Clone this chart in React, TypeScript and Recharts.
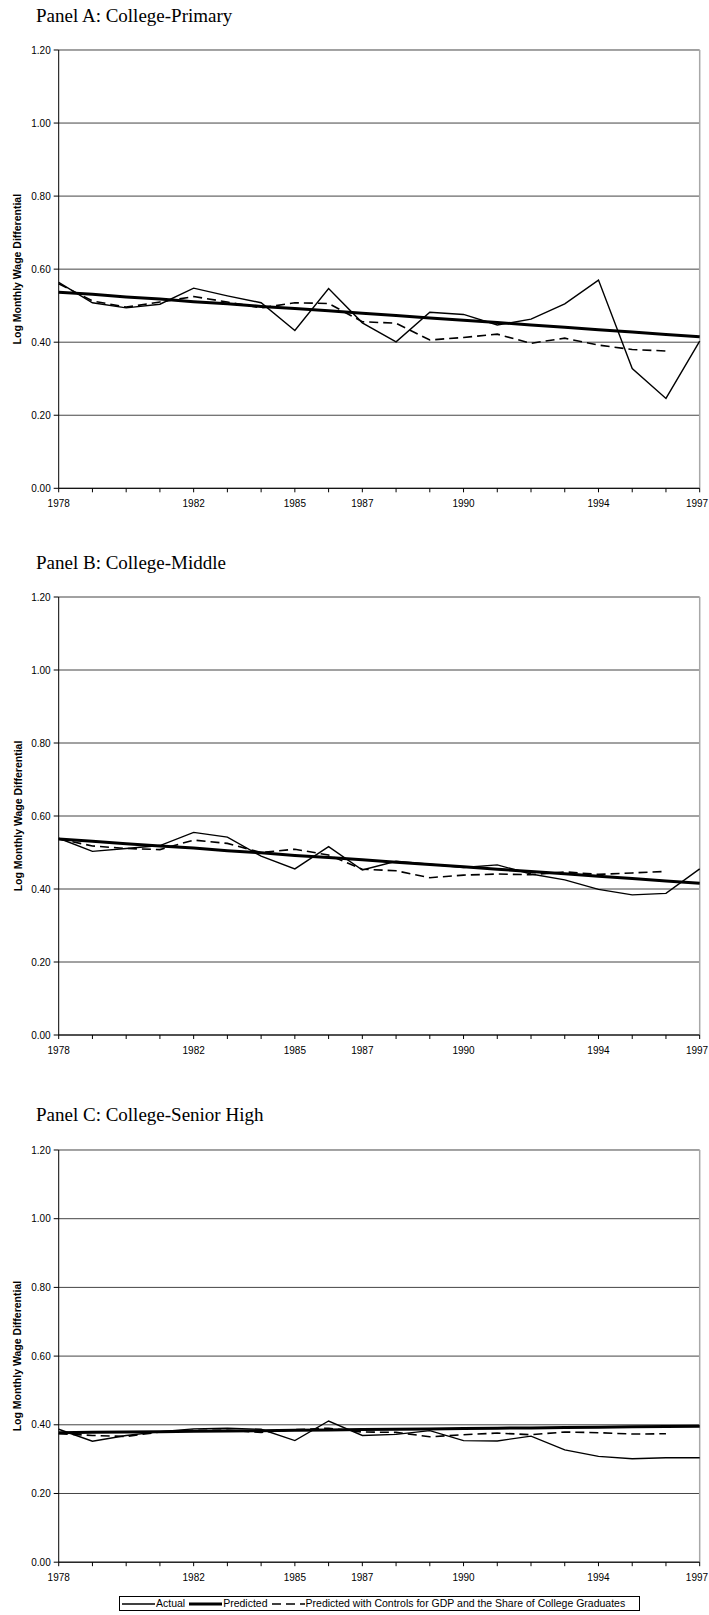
import React from "react";
import {
  LineChart,
  Line,
  XAxis,
  YAxis,
  CartesianGrid,
  ReferenceLine,
} from "recharts";

const years = [
  "1978", "1979", "1980", "1981", "1982", "1983", "1984", "1985", "1986", "1987",
  "1988", "1989", "1990", "1991", "1992", "1993", "1994", "1995", "1996", "1997",
];
const labeledYears = ["1978", "1982", "1985", "1987", "1990", "1994", "1997"];
const yTicks = [0, 0.2, 0.4, 0.6, 0.8, 1.0, 1.2];

const primaryActual = [0.564, 0.508, 0.494, 0.504, 0.548, 0.527, 0.508, 0.432, 0.547, 0.453, 0.401, 0.482, 0.476, 0.447, 0.463, 0.505, 0.570, 0.328, 0.246, 0.403];
const primaryPredicted = [0.537, 0.531, 0.524, 0.518, 0.511, 0.505, 0.498, 0.492, 0.486, 0.479, 0.473, 0.466, 0.460, 0.454, 0.447, 0.441, 0.434, 0.428, 0.421, 0.415];
const primaryControls = [0.560, 0.513, 0.496, 0.510, 0.525, 0.510, 0.494, 0.508, 0.506, 0.456, 0.452, 0.406, 0.413, 0.422, 0.397, 0.411, 0.392, 0.380, 0.376, null];

const middleActual = [0.539, 0.503, 0.511, 0.519, 0.555, 0.542, 0.490, 0.455, 0.516, 0.452, 0.476, 0.468, 0.459, 0.466, 0.441, 0.425, 0.399, 0.384, 0.388, 0.455];
const middlePredicted = [0.537, 0.531, 0.524, 0.518, 0.512, 0.505, 0.499, 0.492, 0.486, 0.480, 0.473, 0.467, 0.461, 0.454, 0.448, 0.442, 0.435, 0.429, 0.422, 0.416];
const middleControls = [0.537, 0.518, 0.511, 0.508, 0.534, 0.525, 0.500, 0.509, 0.493, 0.454, 0.450, 0.431, 0.438, 0.441, 0.439, 0.447, 0.440, 0.444, 0.448, null];

const seniorActual = [0.387, 0.352, 0.369, 0.380, 0.388, 0.390, 0.387, 0.354, 0.411, 0.369, 0.372, 0.383, 0.354, 0.353, 0.367, 0.327, 0.308, 0.301, 0.304, 0.304];
const seniorPredicted = [0.377, 0.378, 0.379, 0.380, 0.381, 0.382, 0.383, 0.384, 0.385, 0.386, 0.387, 0.388, 0.389, 0.390, 0.391, 0.392, 0.393, 0.394, 0.395, 0.396];
const seniorControls = [0.374, 0.369, 0.366, 0.379, 0.384, 0.384, 0.378, 0.386, 0.390, 0.379, 0.378, 0.365, 0.371, 0.376, 0.371, 0.379, 0.377, 0.373, 0.374, null];

const SANS = "'Liberation Sans', Arial, sans-serif";
const SERIF = "'Liberation Serif', 'Times New Roman', serif";
const DASH = "9 5";

function buildRows(actual: number[], predicted: number[], controls: (number | null)[]) {
  return years.map((year, i) => ({
    year,
    actual: actual[i],
    predicted: predicted[i],
    controls: controls[i],
  }));
}

// year label; the last one is nudged so it stays inside the page
const YearTick = (props: any) => {
  const { x, y, payload } = props;
  const label = labeledYears.includes(payload.value) ? payload.value : "";
  if (!label) return null;
  return (
    <text
      x={Math.min(x, 697)}
      y={y}
      dy="0.71em"
      textAnchor="middle"
      fontFamily={SANS}
      fontSize={10}
      fill="#000"
    >
      {label}
    </text>
  );
};

interface PanelProps {
  title: string;
  plotTop: number;
  plotH: number;
  actual: number[];
  predicted: number[];
  controls: (number | null)[];
}

function Panel({ title, plotTop, plotH, actual, predicted, controls }: PanelProps) {
  const data = buildRows(actual, predicted, controls);
  const mTop = 10;
  return (
    <>
      <div
        style={{
          position: "absolute",
          left: 36,
          top: plotTop - 28.3 - 15.9,
          fontFamily: SERIF,
          fontSize: 19,
          lineHeight: "19px",
          whiteSpace: "nowrap",
          color: "#000",
        }}
      >
        {title}
      </div>
      <div style={{ position: "absolute", left: 0, top: plotTop - mTop }}>
        <LineChart
          width={709}
          height={mTop + plotH + 30}
          data={data}
          margin={{ top: mTop, right: 9.3, bottom: 0, left: 0 }}
        >
          <CartesianGrid horizontal vertical={false} stroke="#444" strokeWidth={1} />
          <ReferenceLine x="1997" stroke="#a8a8a8" strokeWidth={1.5} />
          <XAxis
            dataKey="year"
            interval={0}
            height={30}
            tickSize={4}
            tickMargin={8}
            axisLine={{ stroke: "#000", strokeWidth: 1 }}
            tickLine={{ stroke: "#000" }}
            tick={<YearTick />}
          />
          <YAxis
            type="number"
            domain={[0, 1.2]}
            ticks={yTicks}
            width={58.7}
            tickFormatter={(v: number) => v.toFixed(2)}
            tickSize={5}
            tickMargin={3}
            axisLine={{ stroke: "#000", strokeWidth: 1 }}
            tickLine={{ stroke: "#000" }}
            tick={{ fontSize: 10, fill: "#000", fontFamily: SANS }}
            label={() => (
              <text
                x={17.5}
                y={mTop + plotH / 2}
                transform={`rotate(-90, 17.5, ${mTop + plotH / 2})`}
                textAnchor="middle"
                dominantBaseline="central"
                fontFamily={SANS}
                fontWeight="bold"
                fontSize={10.5}
                fill="#000"
              >
                Log Monthly Wage Differential
              </text>
            )}
          />
          <Line
            dataKey="actual"
            name="Actual"
            stroke="#000"
            strokeWidth={1.4}
            dot={false}
            isAnimationActive={false}
          />
          <Line
            dataKey="predicted"
            name="Predicted"
            stroke="#000"
            strokeWidth={3}
            dot={false}
            isAnimationActive={false}
          />
          <Line
            dataKey="controls"
            name="Predicted with Controls for GDP and the Share of College Graduates"
            stroke="#000"
            strokeWidth={1.6}
            strokeDasharray={DASH}
            dot={false}
            connectNulls={false}
            isAnimationActive={false}
          />
        </LineChart>
      </div>
    </>
  );
}

function LegendItem({ label, width, dash }: { label: string; width: number; dash?: string }) {
  return (
    <span style={{ display: "inline-flex", alignItems: "center" }}>
      <svg width={33} height={10} style={{ display: "block" }}>
        <line x1={0} y1={5} x2={33} y2={5} stroke="#000" strokeWidth={width} strokeDasharray={dash} />
      </svg>
      <span style={{ marginLeft: 1, marginRight: 4 }}>{label}</span>
    </span>
  );
}

export default function App() {
  return (
    <div style={{ position: "absolute", left: 0, top: 0, width: 709, height: 1615, background: "#fff" }}>
      <Panel
        title="Panel A: College-Primary"
        plotTop={50}
        plotH={438.3}
        actual={primaryActual}
        predicted={primaryPredicted}
        controls={primaryControls}
      />
      <Panel
        title="Panel B: College-Middle"
        plotTop={597}
        plotH={438}
        actual={middleActual}
        predicted={middlePredicted}
        controls={middleControls}
      />
      <Panel
        title="Panel C: College-Senior High"
        plotTop={1149.5}
        plotH={412.2}
        actual={seniorActual}
        predicted={seniorPredicted}
        controls={seniorControls}
      />
      <div
        style={{
          position: "absolute",
          left: 119,
          top: 1596,
          width: 521,
          height: 15,
          boxSizing: "border-box",
          border: "1px solid #000",
          display: "flex",
          alignItems: "center",
          paddingLeft: 2,
          fontFamily: SANS,
          fontSize: 10.5,
          lineHeight: "13px",
          whiteSpace: "nowrap",
          color: "#000",
        }}
      >
        <LegendItem label="Actual" width={1.4} />
        <LegendItem label="Predicted" width={3} />
        <LegendItem label="Predicted with Controls for GDP and the Share of College Graduates" width={1.6} dash="9 5" />
      </div>
    </div>
  );
}
